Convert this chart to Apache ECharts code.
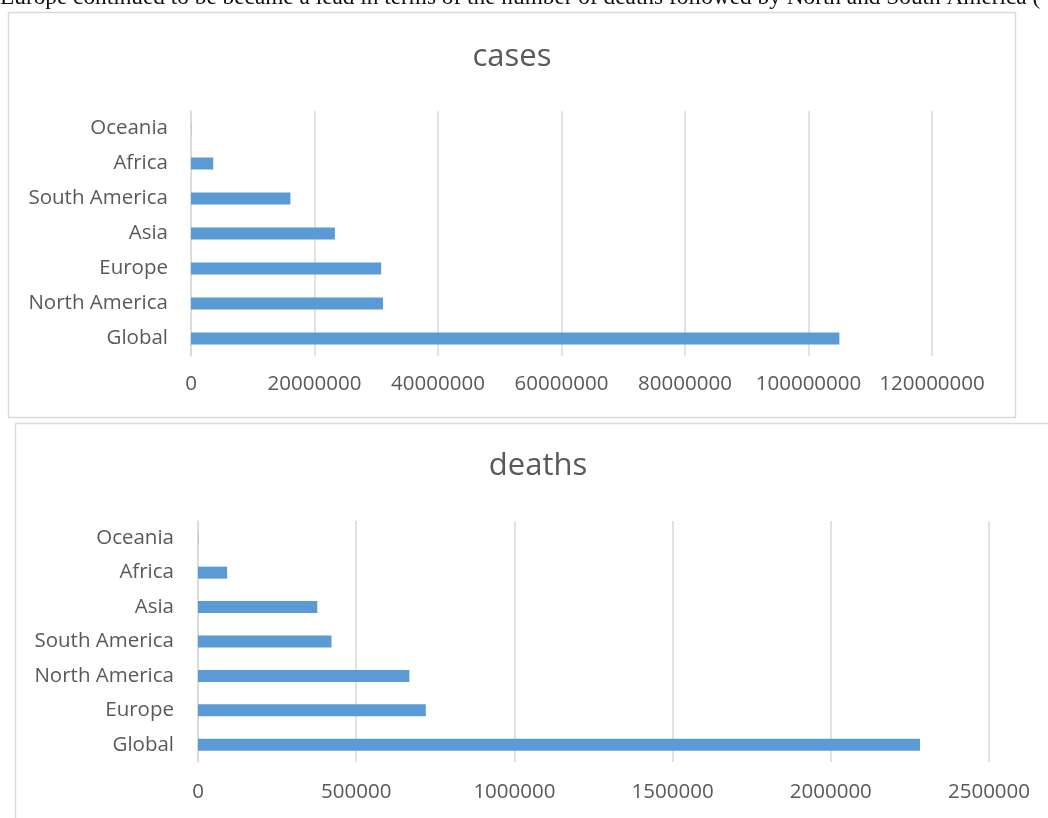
<!DOCTYPE html>
<html>
<head>
<meta charset="utf-8">
<script src="https://cdn.jsdelivr.net/npm/echarts@6/dist/echarts.min.js"></script>
<style>
html,body{margin:0;padding:0;background:#fff;}
#main{width:1048px;height:818px;}
</style>
</head>
<body>
<div id="main"></div>
<script>
// Cases chart (bottom-to-top order as drawn)
var casesCategories = ['Global', 'North America', 'Europe', 'Asia', 'South America', 'Africa', 'Oceania'];
var casesValues = [105000000, 31100000, 30800000, 23300000, 16100000, 3600000, 30000];
var casesTicks = { min: 0, max: 120000000, interval: 20000000 };

// Deaths chart (bottom-to-top order as drawn)
var deathsCategories = ['Global', 'Europe', 'North America', 'South America', 'Asia', 'Africa', 'Oceania'];
var deathsValues = [2282000, 720000, 668000, 422000, 377000, 92000, 900];
var deathsTicks = { min: 0, max: 2500000, interval: 500000 };

var introText = 'Europe continued to be became a lead in terms of the number of deaths followed by North and South America (';

var FONT = '"Open Sans", "Noto Sans", sans-serif';
var GREY = '#595959';
var GRID = '#d9d9d9';
var BAR = '#5b9bd5';

function xAxisCfg(idx, ticks, margin) {
  return {
    type: 'value', gridIndex: idx,
    min: ticks.min, max: ticks.max, interval: ticks.interval,
    axisLine: { show: false }, axisTick: { show: false },
    axisLabel: { color: GREY, fontSize: 20.5, fontFamily: FONT, margin: margin,
                 formatter: function (v) { return String(v); } },
    splitLine: { show: true, lineStyle: { color: GRID, width: 1.5 } }
  };
}
function yAxisCfg(idx, cats, margin) {
  return {
    type: 'category', gridIndex: idx, data: cats,
    axisLine: { show: true, lineStyle: { color: GRID, width: 1.5 } },
    axisTick: { show: false },
    axisLabel: { color: GREY, fontSize: 20.5, fontFamily: FONT, margin: margin }
  };
}

var chart = echarts.init(document.getElementById('main'), null, { renderer: 'canvas' });
chart.setOption({
  animation: false,
  backgroundColor: '#ffffff',
  grid: [
    { left: 191, width: 741, top: 111, height: 245 },
    { left: 198, width: 791, top: 521, height: 241 }
  ],
  xAxis: [ xAxisCfg(0, casesTicks, 18), xAxisCfg(1, deathsTicks, 20) ],
  yAxis: [ yAxisCfg(0, casesCategories, 23), yAxisCfg(1, deathsCategories, 24) ],
  series: [
    { name: 'cases', type: 'bar', xAxisIndex: 0, yAxisIndex: 0, data: casesValues,
      barWidth: 12, itemStyle: { color: BAR } },
    { name: 'deaths', type: 'bar', xAxisIndex: 1, yAxisIndex: 1, data: deathsValues,
      barWidth: 12, itemStyle: { color: BAR } }
  ],
  graphic: [
    { type: 'text', left: 0, top: -14, z: 10,
      style: { text: introText, fontFamily: '"Liberation Serif", "DejaVu Serif", serif',
               fontSize: 23.3, fill: '#111' } },
    { type: 'rect', z: -1, shape: { x: 8.5, y: 12.5, width: 1007, height: 405 },
      style: { fill: 'none', stroke: GRID, lineWidth: 1.5 } },
    { type: 'rect', z: -1, shape: { x: 15.5, y: 423.5, width: 1100, height: 500 },
      style: { fill: 'none', stroke: GRID, lineWidth: 1.5 } },
    { type: 'text', x: 512, y: 57, z: 10,
      style: { text: 'cases', fontFamily: FONT, fontSize: 31, fill: GREY,
               textAlign: 'center', textVerticalAlign: 'middle' } },
    { type: 'text', x: 538, y: 466, z: 10,
      style: { text: 'deaths', fontFamily: FONT, fontSize: 31, fill: GREY,
               textAlign: 'center', textVerticalAlign: 'middle' } }
  ]
});
</script>
</body>
</html>
